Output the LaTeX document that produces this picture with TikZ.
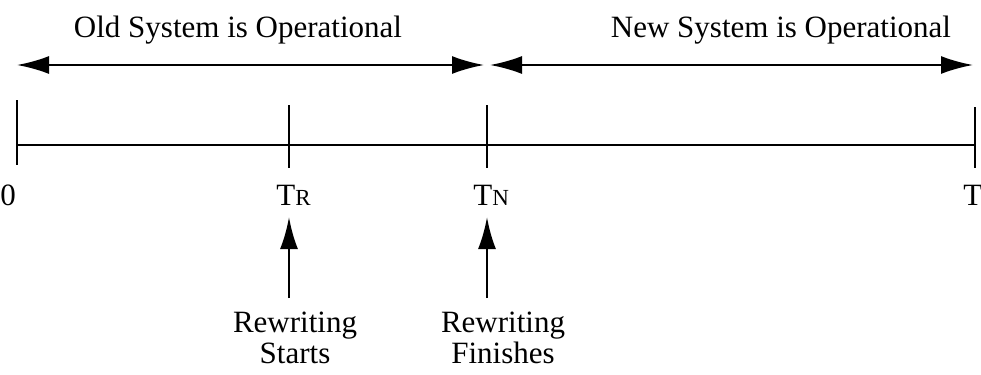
\documentclass[tikz,border=0pt]{standalone}
\usepackage{fontspec}
\setmainfont{Liberation Serif}
\usetikzlibrary{arrows.meta}
\tikzset{
  lbl/.style={font=\fontsize{15.5}{15.5}\selectfont, inner sep=0pt},
  spanarrow/.style={line width=1.1pt, {Latex[length=16pt,width=9pt]}-{Latex[length=16pt,width=9pt]}},
  uparrow/.style={line width=1.3pt, -{Latex[length=16pt,width=9pt]}},
  tickmark/.style={line width=1.3pt}
}
\newcommand{\tsub}[1]{{\fontsize{11.5}{12}\selectfont #1}}
\begin{document}
\begin{tikzpicture}[x=0.5pt,y=-0.5pt]
  \useasboundingbox (0,0) rectangle (981,375);
  % time axis
  \coordinate (a0) at (17,145);
  \coordinate (aR) at (289,145);
  \coordinate (aN) at (487,145);
  \coordinate (aT) at (975,145);
  \draw[line width=1.1pt] (a0) -- (aT);
  \foreach \p/\t/\b in {a0/100/165, aR/105/168, aN/105/168, aT/107/168}
    \draw[tickmark] (\p |- 0,\t) -- (\p |- 0,\b);
  \node[lbl,anchor=base] (l0) at (8,205) {0};
  \node[lbl,anchor=base west] (lR) at (276,205) {T\tsub{R}};
  \node[lbl,anchor=base west] (lN) at (473,205) {T\tsub{N}};
  \node[lbl,anchor=base west] (lT) at (963,205) {T};
  % operational periods
  \coordinate (o1) at (17,65);
  \coordinate (o2) at (484,65);
  \coordinate (n1) at (490,65);
  \coordinate (n2) at (973,65);
  \draw[spanarrow] (o1) -- (o2);
  \draw[spanarrow] (n1) -- (n2);
  \node[lbl,anchor=base] (old) at (238,37) {Old System is Operational};
  \node[lbl,anchor=base] (new) at (781,37) {New System is Operational};
  % rewriting events
  \node[lbl,align=center,anchor=base] (rs) at (295,363) {Rewriting\\Starts};
  \node[lbl,align=center,anchor=base] (rf) at (503,363) {Rewriting\\Finishes};
  \coordinate (rsb) at (289,298);
  \coordinate (rst) at (289,217);
  \coordinate (rfb) at (487,298);
  \coordinate (rft) at (487,217);
  \draw[uparrow] (rsb) -- (rst);
  \draw[uparrow] (rfb) -- (rft);
\end{tikzpicture}
\end{document}
